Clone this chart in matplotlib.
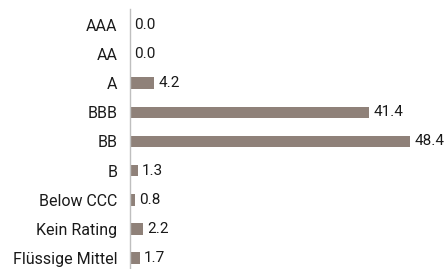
import matplotlib.pyplot as plt

categories = ["AAA", "AA", "A", "BBB", "BB", "B", "Below CCC", "Kein Rating", "Flüssige Mittel"]
values = [0.0, 0.0, 4.2, 41.4, 48.4, 1.3, 0.8, 2.2, 1.7]

plt.rcParams['font.family'] = ['Roboto', 'DejaVu Sans']

fig = plt.figure(figsize=(4.47, 2.69), dpi=100)
ax = fig.add_axes([130 / 447, 0, 1 - 130 / 447, 1 - 9 / 269])

pos = list(range(len(categories)))
ax.barh(pos, values, height=0.4, color='#8f8179')
for p, v in zip(pos, values):
    ax.annotate(f"{v:.1f}", (v, p), xytext=(3, 0), textcoords='offset points',
                va='center', ha='left', fontsize=11, color='#1a1a1a')

ax.set_yticks(pos)
ax.set_yticklabels(categories, fontsize=11.5, color='#1a1a1a')
ax.tick_params(axis='y', length=0, pad=9)
ax.set_xticks([])
ax.set_xlim(0, 54.8)
ax.set_ylim(8.38, -0.55)
for s in ['top', 'right', 'bottom']:
    ax.spines[s].set_visible(False)
ax.spines['left'].set_color('#bfbfbf')
ax.spines['left'].set_linewidth(1)

fig.savefig('out.png', dpi=100)
